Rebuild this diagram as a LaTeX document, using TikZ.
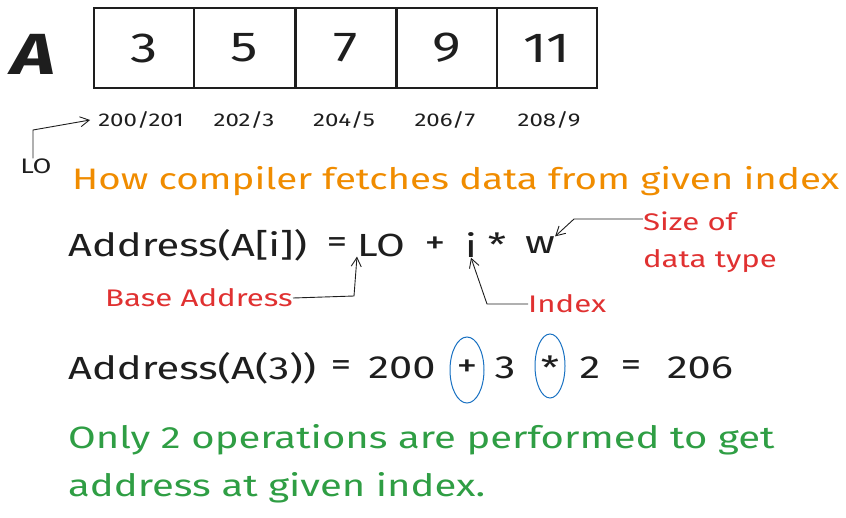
\documentclass[tikz,border=0pt]{standalone}
\usepackage{fontspec}
\setmainfont[FakeStretch=1.3]{Fira Sans}
\usetikzlibrary{arrows.meta,shapes.geometric}
\definecolor{ink}{HTML}{1E1E1E}
\definecolor{xorange}{HTML}{F08C00}
\definecolor{xred}{HTML}{E03131}
\definecolor{xgreen}{HTML}{2F9E44}
\definecolor{xblue}{HTML}{1971C2}
\tikzset{
  cell/.style={draw=ink, line width=1.1pt, minimum width=100pt, minimum height=80pt, inner sep=0pt, font=\fontsize{42}{46}\selectfont, text=ink},
  addr/.style={font=\fontsize{18.5}{22}\selectfont, text=ink, inner sep=0pt},
  eq/.style={font=\fontsize{32}{38}\selectfont, text=ink, inner sep=0pt},
  note/.style={font=\fontsize{24}{37}\selectfont, text=xred, inner sep=0pt, align=left},
  big/.style={font=\fontsize{29.6}{47}\selectfont, inner sep=0pt, anchor=west},
  conn/.style={draw=ink, line width=0.9pt, -{Straight Barb[length=9pt,width=10pt]}},
  ring/.style={draw=xblue, line width=1pt, ellipse}
}
\begin{document}
\begin{tikzpicture}[x=1pt,y=-1pt]
\useasboundingbox (0,0) rectangle (846,517);
\node[font=\fontsize{58}{60}\selectfont\bfseries\itshape, text=ink] (A) at (33,54) {A};
\node[cell] (c1) at (144,48) {3};
\node[cell] (c2) at (244.5,48) {5};
\node[cell] (c3) at (346,48) {7};
\node[cell] (c4) at (447,48) {9};
\node[cell] (c5) at (547,48) {11};
\node[addr] (a1) at (141,120) {200/201};
\node[addr] (a2) at (244,120) {202/3};
\node[addr] (a3) at (344,120) {204/5};
\node[addr] (a4) at (445,120) {206/7};
\node[addr] (a5) at (549,120) {208/9};
\node[addr, font=\fontsize{21}{24}\selectfont] (lo) at (36,166) {LO};
\draw[conn] (lo.north -| 33,0) -- (33,130) -- ([xshift=-8pt]a1.west);
\node[big, text=xorange] (title) at (72,181) {How compiler fetches data from given index};
% formula 1
\node[eq, anchor=west] (f1) at (68,245) {Address(A[i])};
\node[eq] (f1e) at (337,245) {=};
\node[eq] (f1lo) at (381,245) {LO};
\node[eq] (f1p) at (435,245) {+};
\node[eq] (f1i) at (471,245) {i};
\node[eq] (f1m) at (497,245) {*};
\node[eq] (f1w) at (540,245) {w};
\node[note] (size) at (710,242) {Size of\\data type};
\node[note, anchor=east] (base) at (293,298) {Base Address};
\node[note, anchor=west] (idx) at (528,304) {Index};
\draw[conn] (size.north west |- 0,219) -- (574,219) -- (f1w.north east);
\draw[conn] (base.east) -- (354,296) -- (f1lo.south west);
\draw[conn] (idx.west) -- (487,304) -- (f1i.south);
% formula 2
\node[eq, anchor=west] (g1) at (68,368) {Address(A(3))};
\node[eq] (g1e) at (341,368) {=};
\node[eq] (g200) at (402,368) {200};
\node[eq] (gp) at (467,368) {+};
\node[eq] (g3) at (505,368) {3};
\node[eq] (gm) at (550,368) {*};
\node[eq] (g2) at (590,368) {2};
\node[eq] (g2e) at (631,368) {=};
\node[eq] (g206) at (700,368) {206};
\node[ring, minimum width=34pt, minimum height=66pt] at (467,370) {};
\node[ring, minimum width=30pt, minimum height=64pt] at (550,366) {};
\node[big, text=xgreen, align=left, anchor=north west, font=\fontsize{30.8}{48}\selectfont] (txt) at (68,424) {Only 2 operations are performed to get\\address at given index.};
\end{tikzpicture}
\end{document}
